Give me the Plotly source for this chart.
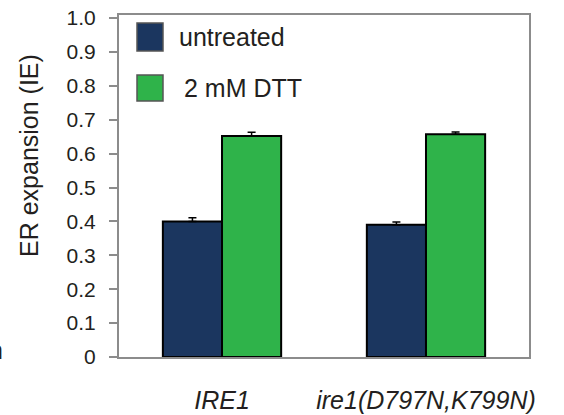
import plotly.graph_objects as go

categories = ["IRE1", "ire1(D797N,K799N)"]
series_names = ["untreated", "2 mM DTT"]
untreated = [0.40, 0.39]
untreated_err = [0.011, 0.008]
dtt = [0.652, 0.657]
dtt_err = [0.011, 0.007]
y_tickvals = [0, 0.1, 0.2, 0.3, 0.4, 0.5, 0.6, 0.7, 0.8, 0.9, 1.0]
y_ticktext = ["0", "0.1", "0.2", "0.3", "0.4", "0.5", "0.6", "0.7", "0.8", "0.9", "1.0"]
colors = ["#1b365f", "#2fb34a"]

W, H = 564, 415
L, R, T, B = 119, 35, 15, 58
pw, ph = W - L - R, H - T - B

def px(x):
    return (x - L) / pw

def py(y):
    return (H - B - y) / ph

FONT = "Liberation Sans, Arial, Helvetica, sans-serif"

fig = go.Figure()
for name, vals, errs, col in [(series_names[0], untreated, untreated_err, colors[0]),
                              (series_names[1], dtt, dtt_err, colors[1])]:
    fig.add_trace(go.Bar(
        x=categories, y=vals, name=name,
        marker=dict(color=col, line=dict(color="black", width=2)),
        error_y=dict(type="data", array=errs, symmetric=False, arrayminus=[0, 0],
                     color="black", thickness=1.5, width=4),
        showlegend=False,
    ))

fig.update_layout(
    template="none",
    width=W, height=H,
    margin=dict(l=L, r=R, t=T, b=B, autoexpand=False),
    paper_bgcolor="white", plot_bgcolor="white",
    barmode="group", bargap=0.42, bargroupgap=0,
    font=dict(family=FONT, color="#231f20"),
)
fig.update_xaxes(
    automargin=False,
    range=[-0.505, 1.505], showline=True, mirror=True, linecolor="#8c8c8c", linewidth=2,
    ticks="", showgrid=False, zeroline=False,
    tickfont=dict(size=25, style="italic", color="#231f20"),
    ticklabelstandoff=20,
)
fig.update_yaxes(
    automargin=False,
    range=[0, (H - B - T) / 339.0], showline=True, mirror=True, linecolor="#8c8c8c", linewidth=2,
    ticks="outside", ticklen=8, tickwidth=2, tickcolor="#8c8c8c",
    tickvals=y_tickvals, ticktext=y_ticktext, showgrid=False, zeroline=False,
    tickfont=dict(size=21, color="#231f20"),
    ticklabelstandoff=9,
)

# custom legend
sw = [(137, 23, 163, 51), (137, 75, 163, 101)]
txt_x = [177, 182]
txt_y = [37, 88]
for i in range(2):
    x0, y0, x1, y1 = sw[i]
    fig.add_shape(type="rect", xref="paper", yref="paper",
                  x0=px(x0), x1=px(x1), y0=py(y1), y1=py(y0),
                  fillcolor=colors[i], line=dict(color="#555555", width=1.5))
    fig.add_annotation(xref="paper", yref="paper", x=px(txt_x[i]), y=py(txt_y[i]),
                       xanchor="left", yanchor="middle", showarrow=False,
                       text=series_names[i], font=dict(size=25, color="#231f20"))

# y title
fig.add_annotation(xref="paper", yref="paper", x=px(29), y=py(156),
                   xanchor="center", yanchor="middle", showarrow=False, textangle=-90,
                   text="ER expansion (IE)", font=dict(size=25, color="#231f20"))
# cropped fragment at left edge
fig.add_annotation(xref="paper", yref="paper", x=px(5), y=py(350),
                   xanchor="right", yanchor="middle", showarrow=False,
                   text="n", font=dict(size=25, color="#231f20"))

fig.write_html("out.html", config={"displayModeBar": False},
               post_script="document.body.style.margin='0px';")
